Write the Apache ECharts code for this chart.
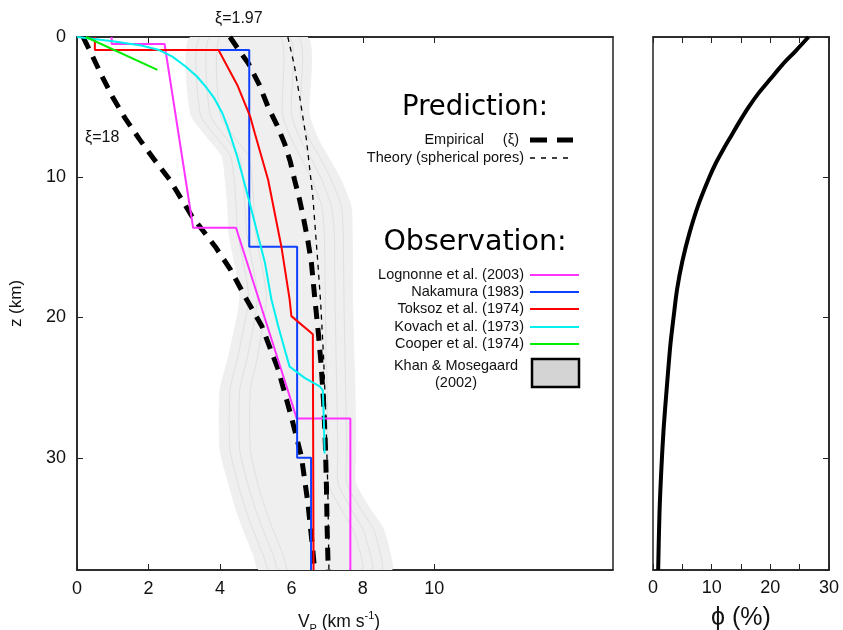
<!DOCTYPE html>
<html><head><meta charset="utf-8">
<script src="https://cdn.jsdelivr.net/npm/echarts@6/dist/echarts.min.js"></script>
<style>html,body{margin:0;padding:0;background:#fff}#c{width:843px;height:630px}</style>
</head><body><div id="c"></div>
<script>
// ---------- data: V_P (km/s) vs depth z (km) ----------
const lognonne = [[0.97,0],[0.97,0.5],[2.45,0.5],[3.25,13.6],[4.45,13.6],[6.15,27.2],[7.65,27.2],[7.65,38]];
const nakamura = [[3.96,0.93],[4.82,0.93],[4.82,14.95],[6.16,14.95],[6.16,30],[6.55,30],[6.55,38]];
const toksoz = [[0.5,0],[0.5,0.93],[3.96,0.93],[4.5,3.5],[4.85,5.7],[4.98,6.9],[5.35,10.2],[5.72,14.95],[5.95,18.7],[6.0,19.9],[6.6,21.2],[6.62,38]];
const kovach = [[0,0],[1.0,0.3],[1.8,0.6],[2.3,0.93],[2.67,1.4],[3.04,2.1],[3.35,2.8],[3.59,3.5],[3.85,4.4],[4.06,5.4],[4.2,6.3],[4.33,7.3],[4.48,8.5],[4.61,9.7],[4.84,11.9],[5.07,14.2],[5.26,16.1],[5.44,18.7],[5.63,20.6],[5.86,22.7],[5.95,23.5],[6.37,24.3],[6.79,24.9],[6.88,25.2],[6.91,27.5],[6.93,29.7]];
const cooper = [[0.25,0],[2.25,2.35]];
const xi197 = [[4.28,0],[4.55,1],[4.8,1.9],[5.1,3.4],[5.35,5],[5.6,6.3],[5.81,7.6],[5.97,8.9],[6.09,10.2],[6.22,11.5],[6.33,12.8],[6.46,14.5],[6.56,16.1],[6.65,18.5],[6.75,21],[6.83,23.3],[6.9,26],[6.95,29],[6.98,32],[7.0,35],[7.03,38]];
const xi18 = [[0.17,0],[0.44,1.4],[0.7,2.8],[1.0,4.3],[1.35,5.8],[1.75,7.3],[2.15,8.7],[2.6,10.2],[3.22,12.8],[3.87,14.95],[4.3,16.6],[4.7,18.5],[5.17,20.6],[5.63,23.7],[6.0,27.1],[6.28,29.9],[6.46,33.2],[6.6,36.6],[6.65,38]];
const theory = [[5.9,0],[6.08,2],[6.23,4.25],[6.42,7.3],[6.6,11.4],[6.74,16.1],[6.82,19],[6.9,22.8],[6.97,27.5],[7.02,32.3],[7.05,38]];

// Khan & Mosegaard (2002) contour bands: depth levels + left/right V for each contour
const khanZ  = [0,5.5,7.3,8.5,10.2,12.1,14,18.5,22.8,25.2,29.4,31.8,33.7,35.1,37,38];
const khanL0 = [3.18,3.18,3.69,4.06,4.15,4.22,4.25,4.56,4.24,4.0,4.0,4.24,4.45,4.65,4.95,5.1];
const khanR0 = [6.44,6.5,6.75,7.02,7.39,7.67,7.7,7.71,7.75,7.78,7.8,7.8,8.22,8.58,8.78,8.8];
const khanL1 = [3.45,3.45,3.95,4.3,4.4,4.45,4.5,4.8,4.5,4.28,4.28,4.5,4.72,4.92,5.22,5.38];
const khanR1 = [6.2,6.25,6.5,6.78,7.12,7.4,7.45,7.47,7.5,7.52,7.55,7.55,7.95,8.3,8.5,8.52];
const khanL2 = [3.72,3.72,4.2,4.55,4.65,4.7,4.75,5.05,4.77,4.55,4.55,4.77,5.0,5.2,5.5,5.65];
const khanR2 = [5.95,6.0,6.25,6.52,6.85,7.12,7.2,7.22,7.25,7.27,7.3,7.3,7.68,8.0,8.22,8.25];
const khanL3 = [4.0,4.0,4.45,4.8,4.9,4.95,5.0,5.3,5.05,4.85,4.85,5.05,5.28,5.48,5.78,5.92];
const khanR3 = [5.7,5.75,6.0,6.25,6.58,6.85,6.92,6.95,6.97,7.0,7.02,7.02,7.4,7.72,7.95,7.98];

// porosity phi (%) vs depth z (km)
const phiZ   = [0,1,2,3,4,5,6,7,8,9,10,12,14,16,18,20,22,25,28,31,34,38];
const phiVal = [26.5,24.3,22.0,20.0,18.0,16.3,14.8,13.4,12.0,10.7,9.6,7.7,6.2,5.0,4.1,3.5,2.95,2.35,1.8,1.4,1.1,0.88];

const vTicks = [0,2,4,6,8,10];
const phiTicks = [0,10,20,30];

// ---------- chart ----------
const chart = echarts.init(document.getElementById('c'));
const FONT = 'Liberation Sans';
const AX = '#222';

function band(L, R, fill, stroke, z) {
  const pts = khanZ.map((d,i)=>[L[i], d]).concat(khanZ.map((d,i)=>[R[i], d]).reverse());
  return {
    type:'custom', xAxisIndex:0, yAxisIndex:0, data: pts, clip:true, silent:true, z:z,
    renderItem: function(params, api){
      if (params.dataIndex !== 0) return;
      const points = pts.map(p=>api.coord(p));
      return {type:'polygon', shape:{points:points, smooth:0.2}, style:{fill:fill, stroke:stroke, lineWidth:1}};
    }
  };
}
function line(data, color, width, type, z) {
  return {type:'line', xAxisIndex:0, yAxisIndex:0, data:data, showSymbol:false, symbol:'none', silent:true,
    lineStyle:{color:color, width:width, type:type||'solid', cap:'butt'}, z:z||3, animation:false};
}
function axLine() { return {show:true, onZero:false, lineStyle:{color:AX, width:1.5}}; }
const tick = {inside:true, length:6, lineStyle:{color:AX}};
const vTick = {inside:true, length:6, lineStyle:{color:AX}, customValues:vTicks};

const option = {
  animation:false,
  grid:[
    {left:74, top:37, width:539, height:533, show:true, borderColor:AX, borderWidth:1.5, backgroundColor:'transparent'},
    {left:653, top:37, width:176, height:533, show:true, borderColor:AX, borderWidth:1.5, backgroundColor:'transparent'}
  ],
  xAxis:[
    {gridIndex:0, type:'value', min:0, max:15, interval:2, position:'bottom',
      axisLine:axLine(), axisTick:vTick, splitLine:{show:false},
      axisLabel:{margin:10, fontSize:18, color:'#111', fontFamily:FONT, customValues:vTicks}},
    {gridIndex:0, type:'value', min:0, max:15, interval:2, position:'top',
      axisLine:axLine(), axisTick:vTick, splitLine:{show:false}, axisLabel:{show:false}},
    {gridIndex:1, type:'value', min:0, max:30, interval:5, position:'bottom',
      axisLine:axLine(), axisTick:tick, splitLine:{show:false},
      axisLabel:{margin:9, fontSize:18, color:'#111', fontFamily:FONT,
        formatter:v=>phiTicks.indexOf(v)>=0?String(v):''}},
    {gridIndex:1, type:'value', min:0, max:30, interval:5, position:'top',
      axisLine:axLine(), axisTick:tick, splitLine:{show:false}, axisLabel:{show:false}}
  ],
  yAxis:[
    {gridIndex:0, type:'value', min:0, max:38, interval:10, inverse:true, position:'left',
      axisLine:axLine(), axisTick:tick, splitLine:{show:false},
      axisLabel:{margin:11, fontSize:18, color:'#111', fontFamily:FONT, showMaxLabel:false},
      name:'z (km)', nameLocation:'middle', nameGap:52, nameRotate:90,
      nameTextStyle:{fontSize:17, color:'#111', fontFamily:FONT}},
    {gridIndex:1, type:'value', min:0, max:38, interval:10, inverse:true, position:'right',
      axisLine:axLine(), axisTick:tick, splitLine:{show:false}, axisLabel:{show:false}}
  ],
  series:[
    band(khanL0, khanR0, '#efefef', '#efefef', 1),
    band(khanL1, khanR1, '#efefef', '#e0e0e0', 1),
    band(khanL2, khanR2, '#efefef', '#e0e0e0', 1),
    band(khanL3, khanR3, '#efefef', '#e0e0e0', 1),
    line(theory, '#000', 1.3, [5,5], 4),
    line(xi18, '#000', 5, [13,9], 4),
    line(xi197, '#000', 5, [13,9], 4),
    line(lognonne, '#ff33ff', 2, 'solid', 5),
    line(nakamura, '#1040ff', 2, 'solid', 5),
    line(toksoz, '#ff0000', 2, 'solid', 6),
    line(kovach, '#00f0f0', 2, 'solid', 6),
    line(cooper, '#00ee00', 2, 'solid', 6),
    {type:'line', xAxisIndex:2, yAxisIndex:1, data:phiZ.map((d,i)=>[phiVal[i], d]), showSymbol:false, symbol:'none',
      smooth:0.3, lineStyle:{color:'#000', width:4}, silent:true}
  ],
  graphic:[
    {type:'text', left:215, top:11, style:{text:'ξ=1.97', fontSize:16, fill:'#111', fontFamily:FONT}},
    {type:'text', left:85, top:130, style:{text:'ξ=18', fontSize:16, fill:'#111', fontFamily:FONT}},
    // x axis name with sub/superscript
    {type:'text', x:339, y:622, style:{text:'{n|V}{s|P}{n| (km s}{u|-1}{n|)}', align:'center', verticalAlign:'middle',
      rich:{n:{fontSize:17.5, fontFamily:FONT, fill:'#111', lineHeight:24, verticalAlign:'middle'},
            s:{fontSize:11, fontFamily:FONT, fill:'#111', lineHeight:11, verticalAlign:'bottom'},
            u:{fontSize:11, fontFamily:FONT, fill:'#111', lineHeight:11, verticalAlign:'top'}}}},
    {type:'text', x:741, y:618, style:{text:'ϕ (%)', fontSize:25, fontFamily:FONT, fill:'#111', align:'center', verticalAlign:'middle'}},
    // legend: prediction
    {type:'text', x:475, y:108, style:{text:'Prediction:', fontSize:27.5, fontFamily:'DejaVu Sans', fill:'#000', align:'center', verticalAlign:'middle'}},
    {type:'text', x:484, y:140, style:{text:'Empirical', fontSize:14.5, fontFamily:FONT, fill:'#111', align:'right', verticalAlign:'middle'}},
    {type:'text', x:519, y:140, style:{text:'(ξ)', fontSize:14.5, fontFamily:FONT, fill:'#111', align:'right', verticalAlign:'middle'}},
    {type:'line', shape:{x1:530, y1:140, x2:573, y2:140}, style:{stroke:'#000', lineWidth:5, lineDash:[17,10]}},
    {type:'text', x:524, y:158, style:{text:'Theory (spherical pores)', fontSize:14.5, fontFamily:FONT, fill:'#111', align:'right', verticalAlign:'middle'}},
    {type:'line', shape:{x1:530, y1:158, x2:568, y2:158}, style:{stroke:'#000', lineWidth:1.3, lineDash:[5,6]}},
    // legend: observation
    {type:'text', x:475, y:243, style:{text:'Observation:', fontSize:28.5, fontFamily:'DejaVu Sans', fill:'#000', align:'center', verticalAlign:'middle'}},
    {type:'text', x:524, y:275, style:{text:'Lognonne et al. (2003)', fontSize:14.5, fontFamily:FONT, fill:'#111', align:'right', verticalAlign:'middle'}},
    {type:'line', shape:{x1:530, y1:275, x2:579, y2:275}, style:{stroke:'#ff33ff', lineWidth:2}},
    {type:'text', x:524, y:292, style:{text:'Nakamura (1983)', fontSize:14.5, fontFamily:FONT, fill:'#111', align:'right', verticalAlign:'middle'}},
    {type:'line', shape:{x1:530, y1:292, x2:579, y2:292}, style:{stroke:'#1040ff', lineWidth:2}},
    {type:'text', x:524, y:309, style:{text:'Toksoz et al. (1974)', fontSize:14.5, fontFamily:FONT, fill:'#111', align:'right', verticalAlign:'middle'}},
    {type:'line', shape:{x1:530, y1:309, x2:579, y2:309}, style:{stroke:'#ff0000', lineWidth:2}},
    {type:'text', x:524, y:327, style:{text:'Kovach et al. (1973)', fontSize:14.5, fontFamily:FONT, fill:'#111', align:'right', verticalAlign:'middle'}},
    {type:'line', shape:{x1:530, y1:327, x2:579, y2:327}, style:{stroke:'#00f0f0', lineWidth:2}},
    {type:'text', x:524, y:344, style:{text:'Cooper et al. (1974)', fontSize:14.5, fontFamily:FONT, fill:'#111', align:'right', verticalAlign:'middle'}},
    {type:'line', shape:{x1:530, y1:344, x2:579, y2:344}, style:{stroke:'#00ee00', lineWidth:2}},
    {type:'text', x:456, y:366, style:{text:'Khan & Mosegaard', fontSize:14.5, fontFamily:FONT, fill:'#111', align:'center', verticalAlign:'middle'}},
    {type:'text', x:456, y:383, style:{text:'(2002)', fontSize:14.5, fontFamily:FONT, fill:'#111', align:'center', verticalAlign:'middle'}},
    {type:'rect', shape:{x:532, y:359, width:47, height:28}, style:{fill:'#d4d4d4', stroke:'#000', lineWidth:2.5}}
  ]
};
chart.setOption(option);
</script>
</body></html>
